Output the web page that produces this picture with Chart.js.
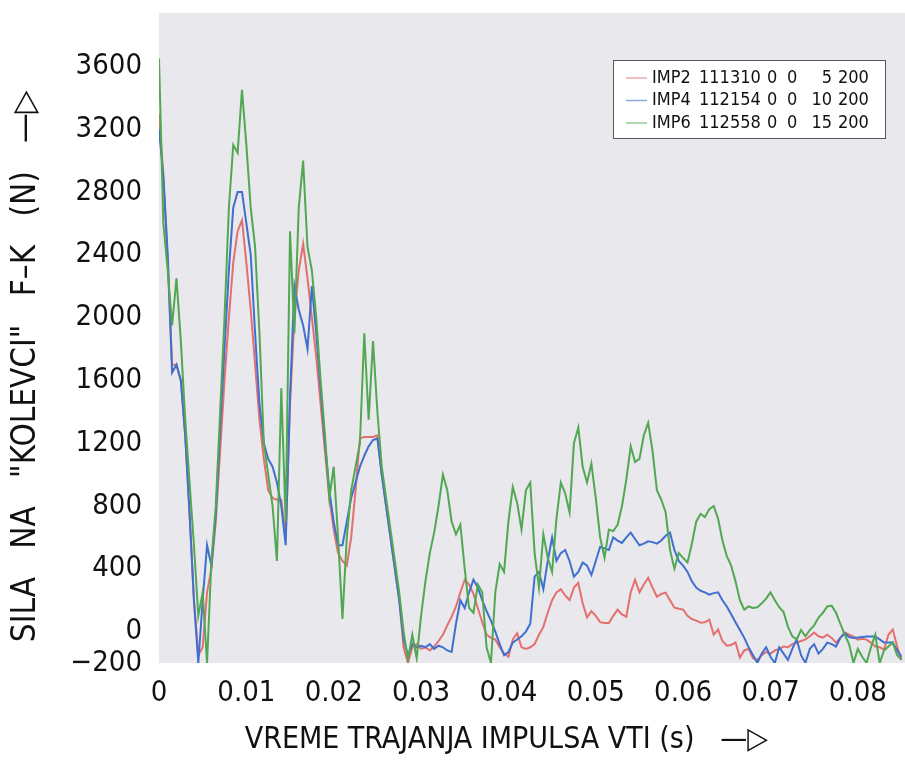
<!DOCTYPE html>
<html><head><meta charset="utf-8">
<script src="https://cdn.jsdelivr.net/npm/chart.js@4.4.1/dist/chart.umd.min.js"></script>
<style>html,body{margin:0;padding:0;background:#fff}#wrap{width:905px;height:761px}</style>
</head><body><div id="wrap"><canvas id="c" width="905" height="761"></canvas></div>
<script>
const TIME = [
0,0.0005,0.001,0.0015,0.002,0.0025,0.003,0.0035,0.004,0.0045,
0.005,0.0055,0.006,0.0065,0.007,0.0075,0.008,0.0085,0.009,0.0095,
0.01,0.0105,0.011,0.0115,0.012,0.0125,0.013,0.0135,0.014,0.0145,
0.015,0.0155,0.016,0.0165,0.017,0.0175,0.018,0.0185,0.019,0.0195,
0.02,0.0205,0.021,0.0215,0.022,0.0225,0.023,0.0235,0.024,0.0245,
0.025,0.0255,0.026,0.0265,0.027,0.0275,0.028,0.0285,0.029,0.0295,
0.03,0.0305,0.031,0.0315,0.032,0.0325,0.033,0.0335,0.034,0.0345,
0.035,0.0355,0.036,0.0365,0.037,0.0375,0.038,0.0385,0.039,0.0395,
0.04,0.0405,0.041,0.0415,0.042,0.0425,0.043,0.0435,0.044,0.0445,
0.045,0.0455,0.046,0.0465,0.047,0.0475,0.048,0.0485,0.049,0.0495,
0.05,0.0505,0.051,0.0515,0.052,0.0525,0.053,0.0535,0.054,0.0545,
0.055,0.0555,0.056,0.0565,0.057,0.0575,0.058,0.0585,0.059,0.0595,
0.06,0.0605,0.061,0.0615,0.062,0.0625,0.063,0.0635,0.064,0.0645,
0.065,0.0655,0.066,0.0665,0.067,0.0675,0.068,0.0685,0.069,0.0695,
0.07,0.0705,0.071,0.0715,0.072,0.0725,0.073,0.0735,0.074,0.0745,
0.075,0.0755,0.076,0.0765,0.077,0.0775,0.078,0.0785,0.079,0.0795,
0.08,0.0805,0.081,0.0815,0.082,0.0825,0.083,0.0835,0.084,0.0845,
0.085];

const IMP2 = [
3300,2900,2350,1700,1700,1600,1250,750,200,-150,
-100,250,400,700,1150,1600,2000,2350,2550,2620,
2350,2050,1700,1350,1100,900,850,840,840,600,
1450,2000,2300,2470,2250,2000,1750,1450,1150,850,
650,500,450,420,600,900,1230,1240,1240,1240,
1250,1000,800,600,400,200,-100,-200,-100,-80,
-110,-100,-120,-95,-60,-20,40,95,160,250,
330,300,240,150,60,-20,-40,-50,-100,-140,
-160,-50,-10,-100,-110,-100,-80,-20,30,120,
200,250,270,230,200,280,310,180,90,130,
100,60,55,55,100,140,110,95,250,330,
250,300,343,280,222,240,248,200,152,145,
140,100,80,70,57,60,76,-20,13,-60,
-90,-85,-70,-165,-120,-110,-170,-180,-150,-130,
-140,-120,-110,-95,-100,-80,-70,-60,-50,-30,
-6,-30,-38,-20,-40,-70,-40,-6,-20,-32,
-51,-45,-51,-70,-95,-100,-114,-20,13,-95,
-180];

const IMP4 = [
3200,2900,2400,1650,1700,1600,1250,750,200,-200,
200,550,420,750,1300,1800,2300,2700,2800,2800,
2600,2400,1900,1450,1200,1100,1050,950,800,550,
1500,2200,2050,1950,1800,2200,1900,1550,1200,900,
700,550,550,700,850,950,1050,1120,1180,1220,
1230,1000,800,600,400,200,-50,-150,-80,-100,
-90,-100,-80,-110,-90,-100,-120,-130,50,200,
150,250,330,280,200,130,70,0,-80,-150,
-130,-70,-50,-30,0,50,350,380,270,450,
600,450,500,520,450,350,380,440,420,360,
450,540,530,520,600,580,565,600,630,590,
550,560,575,570,560,580,610,630,520,450,
420,380,320,280,260,250,235,245,250,200,
160,110,60,10,-40,-100,-150,-200,-140,-100,
-160,-200,-100,-140,-180,-110,-50,-150,-200,-110,
-80,-140,-110,-70,-80,-95,-40,-10,-35,-40,
-38,-35,-32,-32,-32,-50,-70,-70,-70,-120,
-160];

const IMP6 = [
3650,2600,2300,1950,2250,1850,1350,950,550,100,
250,-200,450,800,1400,2000,2700,3100,3050,3450,
3100,2700,2450,1900,1200,1000,800,450,1550,700,
2550,1900,2700,3000,2450,2300,2000,1600,1250,850,
1050,600,80,600,900,1050,1200,1900,1350,1850,
1400,1050,850,650,450,250,0,-180,-20,-170,
100,320,500,630,800,1000,900,700,620,680,
400,150,120,300,250,-100,-200,250,430,380,
700,920,820,650,900,950,500,280,620,470,
380,720,950,880,760,1200,1300,1050,950,1070,
850,600,470,650,640,680,800,970,1180,1080,
1100,1250,1330,1150,900,840,760,520,400,500,
470,440,560,700,750,730,780,800,720,580,
480,420,320,200,140,160,150,155,180,210,
250,200,155,125,30,-30,-50,10,-30,10,
40,90,120,160,165,120,50,-20,-80,-200,
-110,-160,-200,-100,-20,-200,-120,-95,-70,-150,
-180];

const SERIES_LABELS = ['IMP2 111310 0 0 5 200', 'IMP4 112154 0 0 10 200', 'IMP6 112558 0 0 15 200'];
const SERIES_COLORS = ['#e46f6f', '#3f6fcf', '#52a852'];
const Y_TICKS = [-200, 0, 400, 800, 1200, 1600, 2000, 2400, 2800, 3200, 3600];
const X_TICKS = [0, 0.01, 0.02, 0.03, 0.04, 0.05, 0.06, 0.07, 0.08];
const NB = '\u00a0';
const X_TITLE = 'VREME TRAJANJA IMPULSA VTI (s)' + NB.repeat(3) + '\u2014\u25B7' + NB.repeat(6);
const Y_TITLE = 'SILA' + NB.repeat(2) + ' NA' + NB.repeat(2) + ' "KOLEVCI"' + NB.repeat(2) + ' F\u2013K' + NB.repeat(2) + ' (N)' + NB.repeat(3) + '\u2014\u25B7' + NB.repeat(6);

const FONT_FAMILY = "'DejaVu Sans Condensed', 'Liberation Sans Narrow', 'DejaVu Sans', sans-serif";

function pts(vals) { return TIME.map((t, i) => ({x: t, y: vals[i]})); }

const bgPlugin = {
  id: 'plotBg',
  beforeDraw(chart) {
    const {ctx, chartArea: a} = chart;
    ctx.save();
    ctx.fillStyle = '#e9e8ec';
    ctx.fillRect(a.left, a.top, a.right - a.left, a.bottom - a.top);
    ctx.restore();
  }
};

const legendPlugin = {
  id: 'boxLegend',
  afterDraw(chart) {
    const ctx = chart.ctx;
    ctx.save();
    ctx.fillStyle = '#ffffff';
    ctx.fillRect(613, 60, 272, 78);
    ctx.strokeStyle = '#555555';
    ctx.lineWidth = 1;
    ctx.strokeRect(613.5, 60.5, 272, 78);
    ctx.font = "18px " + FONT_FAMILY;
    ctx.fillStyle = '#111111';
    ctx.textBaseline = 'middle';
    const rows = [78, 100.5, 123];
    chart.data.datasets.forEach((ds, k) => {
      const y = rows[k];
      ctx.strokeStyle = ds.borderColor;
      ctx.globalAlpha = 0.6;
      ctx.lineWidth = 1.5;
      ctx.beginPath(); ctx.moveTo(626, y); ctx.lineTo(647, y); ctx.stroke();
      ctx.globalAlpha = 1;
      const p = ds.label.split(' ');
      ctx.textAlign = 'left';
      ctx.fillText(p[0], 652, y);
      ctx.fillText(p[1], 699, y);
      ctx.fillText(p[2], 767, y);
      ctx.fillText(p[3], 787, y);
      ctx.textAlign = 'right';
      ctx.fillText(p[4], 832, y);
      ctx.textAlign = 'left';
      ctx.fillText(p[5], 838, y);
    });
    ctx.restore();
  }
};

const tickFont = {family: FONT_FAMILY, size: 29};
const xTitleFont = {family: FONT_FAMILY, size: 30};
const yTitleFont = {family: FONT_FAMILY, size: 33};

new Chart(document.getElementById('c'), {
  type: 'line',
  data: {
    datasets: [
      {label: SERIES_LABELS[0], data: pts(IMP2), borderColor: SERIES_COLORS[0], order: 3},
      {label: SERIES_LABELS[1], data: pts(IMP4), borderColor: SERIES_COLORS[1], order: 2},
      {label: SERIES_LABELS[2], data: pts(IMP6), borderColor: SERIES_COLORS[2], order: 1}
    ].map(d => Object.assign(d, {borderWidth: 2, pointRadius: 0, tension: 0, fill: false}))
  },
  options: {
    responsive: false,
    animation: false,
    devicePixelRatio: 1,
    layout: {padding: {top: 13, right: 0, left: 0, bottom: 0}},
    plugins: {legend: {display: false}, tooltip: {enabled: false}},
    scales: {
      x: {
        type: 'linear', min: 0, max: 0.0854,
        grid: {display: false, drawTicks: false, tickLength: 0},
        border: {display: false},
        afterBuildTicks: s => { s.ticks = X_TICKS.map(v => ({value: v})); },
        afterFit: s => { s.height = 98; s.paddingLeft = 0; s.paddingRight = 0; },
        ticks: {font: tickFont, color: '#111', padding: 13, maxRotation: 0, autoSkip: false,
          callback: v => v === 0 ? '0' : v.toFixed(2)},
        title: {display: true, text: X_TITLE, font: xTitleFont, color: '#111', padding: {top: 0, bottom: 3}}
      },
      y: {
        min: -200, max: 3940,
        grid: {display: false, drawTicks: false, tickLength: 0},
        border: {display: false},
        afterBuildTicks: s => { s.ticks = Y_TICKS.map(v => ({value: v})); },
        afterFit: s => { s.width = 159; s.paddingTop = 0; s.paddingBottom = 0; },
        ticks: {font: tickFont, color: '#111', padding: 17, autoSkip: false,
          callback: v => String(v).replace('-', '\u2212')},
        title: {display: true, text: Y_TITLE, font: yTitleFont, color: '#111', padding: {top: 7, bottom: 0}}
      }
    }
  },
  plugins: [bgPlugin, legendPlugin]
});
</script></body></html>
